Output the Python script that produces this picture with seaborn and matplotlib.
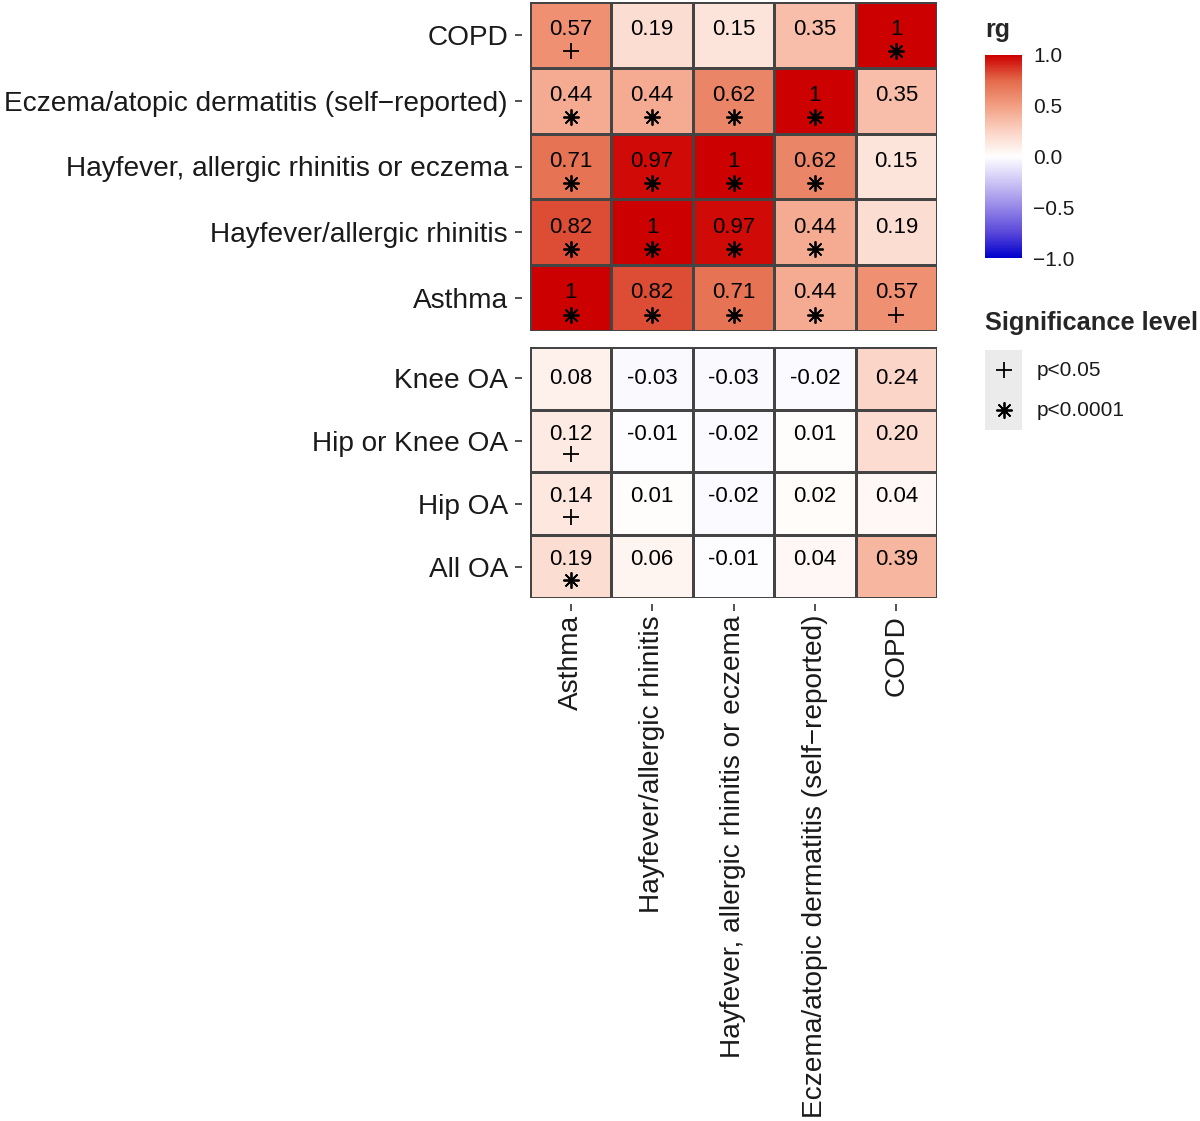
import numpy as np
import pandas as pd
import matplotlib.pyplot as plt
import seaborn as sns
from matplotlib.colors import LinearSegmentedColormap

# ==========================================
# Data
# ==========================================

columns = ["Asthma", "Hayfever/allergic rhinitis", "Hayfever, allergic rhinitis or eczema",
           "Eczema/atopic dermatitis (self\u2212reported)", "COPD"]

top_rows = ["COPD", "Eczema/atopic dermatitis (self\u2212reported)",
            "Hayfever, allergic rhinitis or eczema", "Hayfever/allergic rhinitis", "Asthma"]
top_rg = [[0.57, 0.19, 0.15, 0.35, 1],
          [0.44, 0.44, 0.62, 1, 0.35],
          [0.71, 0.97, 1, 0.62, 0.15],
          [0.82, 1, 0.97, 0.44, 0.19],
          [1, 0.82, 0.71, 0.44, 0.57]]
top_sig = [["+", "", "", "", "*"],
           ["*", "*", "*", "*", ""],
           ["*", "*", "*", "*", ""],
           ["*", "*", "*", "*", ""],
           ["*", "*", "*", "*", "+"]]

bot_rows = ["Knee OA", "Hip or Knee OA", "Hip OA", "All OA"]
bot_rg = [[0.08, -0.03, -0.03, -0.02, 0.24],
          [0.12, -0.01, -0.02, 0.01, 0.20],
          [0.14, 0.01, -0.02, 0.02, 0.04],
          [0.19, 0.06, -0.01, 0.04, 0.39]]
bot_sig = [["", "", "", "", ""],
           ["+", "", "", "", ""],
           ["+", "", "", "", ""],
           ["*", "", "", "", ""]]

cbar_ticks = [-1.0, -0.5, 0.0, 0.5, 1.0]
sig_labels = ["p<0.05", "p<0.0001"]

# ==========================================
# Style
# ==========================================

sns.set_style("white")
plt.rcParams["font.family"] = ["Liberation Sans", "DejaVu Sans"]

cmap = LinearSegmentedColormap.from_list("rg", [
    (0.0, "#0000cd"), (0.125, "#5a48da"), (0.25, "#9688e8"), (0.375, "#cdc5f5"),
    (0.5, "#ffffff"),
    (0.625, "#fbd3c4"), (0.75, "#f39f83"), (0.875, "#e36a4a"), (1.0, "#cd0000")])

MARKERS = {"+": "+", "*": (8, 2, 0)}
PX = 72 / 100  # points per pixel
LABEL_SIZE = 20.2

fig = plt.figure(figsize=(12, 11.21), dpi=100)
ax_top = fig.add_axes([530 / 1200, 1 - 331 / 1121, 407 / 1200, 329 / 1121])
ax_bot = fig.add_axes([530 / 1200, 1 - 598 / 1121, 407 / 1200, 251 / 1121])
cax = fig.add_axes([985 / 1200, 1 - 258 / 1121, 37 / 1200, 203 / 1121])


def draw_panel(ax, rows, vals, sig, cbar, num_off, sym_off):
    df = pd.DataFrame(vals, index=rows, columns=columns)
    kws = dict(cmap=cmap, vmin=-1, vmax=1, linewidths=0.8, linecolor="#444444")
    if cbar:
        sns.heatmap(df, ax=ax, cbar=True, cbar_ax=cax, cbar_kws={"ticks": cbar_ticks}, **kws)
    else:
        sns.heatmap(df, ax=ax, cbar=False, **kws)
    for i in range(len(rows)):
        shift = any(s != "" for s in sig[i])
        for j in range(len(columns)):
            v = vals[i][j]
            lab = "1" if v == 1 else f"{v:.2f}"
            y_num = i + 0.5 - (num_off if shift else 0)
            ax.text(j + 0.5, y_num, lab, ha="center", va="center", fontsize=16, color="black")
            if sig[i][j]:
                ax.scatter(j + 0.5, i + 0.5 + sym_off, marker=MARKERS[sig[i][j]], s=120,
                           color="black", linewidths=1.3, zorder=3)
    # ticks sit a little away from the panel, like the original
    for side in ["left", "bottom"]:
        ax.spines[side].set_position(("outward", 8 * PX))
        ax.spines[side].set_visible(False)
    for side in ["right", "top"]:
        ax.spines[side].set_visible(False)
    ax.set_xlabel("")
    ax.set_ylabel("")
    ax.tick_params(axis="y", left=True, length=7 * PX, width=1.2, color="#333333",
                   pad=7 * PX, labelsize=LABEL_SIZE, rotation=0)
    ax.tick_params(axis="x", bottom=True, length=7 * PX, width=1.2, color="#333333",
                   pad=4 * PX, labelsize=LABEL_SIZE)


draw_panel(ax_top, top_rows, top_rg, top_sig, cbar=False, num_off=0.08, sym_off=0.25)
ax_top.set_xticks([])
draw_panel(ax_bot, bot_rows, bot_rg, bot_sig, cbar=True, num_off=0.11, sym_off=0.21)
ax_bot.spines["bottom"].set_position(("outward", 6 * PX))
ax_bot.set_xticklabels(columns, rotation=90, ha="center", va="top")

for lab in ax_top.get_yticklabels() + ax_bot.get_yticklabels() + ax_bot.get_xticklabels():
    lab.set_color("#1a1a1a")

# colorbar
cax.set_ylim(-1, 1)
cb = ax_bot.collections[0].colorbar
cb.outline.set_visible(False)
cax.tick_params(left=True, right=True, direction="in", length=7, width=1, color="white",
                labelsize=15, labelcolor="#1a1a1a", pad=8)
cax.set_yticklabels([f"{t:.1f}".replace("-", "\u2212") for t in cbar_ticks])
fig.text(985 / 1200, 1 - 30 / 1121, "rg", fontsize=18, fontweight="bold", va="center", ha="left")

# significance legend
fig.text(985 / 1200, 1 - 323 / 1121, "Significance level", fontsize=18.3, fontweight="bold",
         va="center", ha="left")
lax = fig.add_axes([985 / 1200, 1 - 430 / 1121, 37 / 1200, 80 / 1121])
lax.set_facecolor("#ebebeb")
lax.set_xlim(0, 1)
lax.set_ylim(0, 2)
lax.invert_yaxis()
for k, (sym, lab) in enumerate(zip(["+", "*"], sig_labels)):
    lax.scatter(0.5, k + 0.5, marker=MARKERS[sym], s=120, color="black", linewidths=1.3)
    lax.text(1.4, k + 0.5, lab, fontsize=15, va="center", ha="left", color="#1a1a1a",
             clip_on=False)
lax.set_xticks([])
lax.set_yticks([])
for sp in lax.spines.values():
    sp.set_visible(False)

plt.savefig("out.png", dpi=100, facecolor="white")
